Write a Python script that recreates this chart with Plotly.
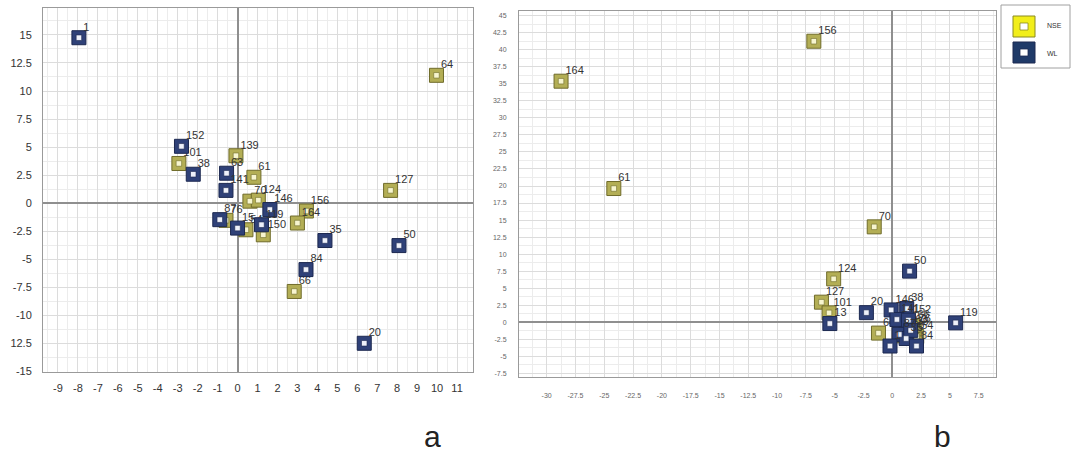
import plotly.graph_objects as go

# ---------------- Panel a ----------------
a_nse_labels = ["64", "101", "139", "61", "70", "124", "156", "164", "127", "66", "150", "54", "76"]
a_nse_x = [9.97, -2.94, -0.08, 0.82, 0.62, 1.04, 3.45, 3.0, 7.67, 2.84, 1.29, 0.42, -0.58]
a_nse_y = [11.4, 3.54, 4.23, 2.31, 0.18, 0.27, -0.7, -1.77, 1.14, -7.87, -2.82, -2.37, -1.53]

a_wl_labels = ["1", "152", "38", "63", "141", "146", "35", "50", "84", "20", "87", "15", "119"]
a_wl_x = [-7.95, -2.81, -2.22, -0.55, -0.58, 1.62, 4.38, 8.09, 3.43, 6.35, -0.89, 0.0, 1.2]
a_wl_y = [14.75, 5.07, 2.58, 2.67, 1.14, -0.57, -3.33, -3.78, -5.92, -12.49, -1.47, -2.22, -1.92]

# ---------------- Panel b ----------------
b_nse_labels = ["156", "164", "61", "70", "124", "127", "101", "64", "150", "54", "76", "66", "139"]
b_nse_x = [-6.81, -28.75, -24.17, -1.57, -5.09, -6.15, -5.49, -1.2, 0.8, 2.12, 1.9, 1.8, 1.2]
b_nse_y = [41.26, 35.39, 19.63, 14.0, 6.36, 2.94, 1.37, -1.6, -2.0, -2.1, -1.0, -0.5, -1.5]

b_wl_labels = ["50", "13", "20", "146", "38", "119", "141", "152", "87", "35", "1", "84", "63"]
b_wl_x = [1.5, -5.42, -2.25, -0.1, 1.25, 5.5, 0.4, 1.4, 0.6, 1.2, -0.2, 2.1, 1.6]
b_wl_y = [7.5, -0.2, 1.4, 1.8, 2.0, -0.1, 0.4, 0.3, -1.8, -2.4, -3.5, -3.5, -1.2]

# ---------------- Tick labels ----------------
a_xticks = list(range(-9, 12))
a_xtick_text = [str(v) for v in a_xticks]
a_yticks = [-15, -12.5, -10, -7.5, -5, -2.5, 0, 2.5, 5, 7.5, 10, 12.5, 15]
a_ytick_text = ["-15", "12.5", "-10", "-7.5", "-5", "-2.5", "0", "2.5", "5", "7.5", "10", "12.5", "15"]
b_xticks = [-30, -27.5, -25, -22.5, -20, -17.5, -15, -12.5, -10, -7.5, -5, -2.5, 0, 2.5, 5, 7.5]
b_xtick_text = ["-30", "-27.5", "-25", "-22.5", "-20", "-17.5", "-15", "-12.5", "-10", "-7.5", "-5",
                "-2.5", "0", "2.5", "5", "7.5"]
b_yticks = [-7.5, -5, -2.5, 0, 2.5, 5, 7.5, 10, 12.5, 15, 17.5, 20, 22.5, 25, 27.5, 30, 32.5, 35,
            37.5, 40, 42.5, 45]
b_ytick_text = ["-7.5", "-5", "-2.5", "0", "2.5", "5", "7.5", "10", "12.5", "15", "17.5", "20", "22.5",
                "25", "27.5", "30", "32.5", "35", "37.5", "40", "42.5", "45"]

series_names = ["NSE", "WL"]
panel_names = ["a", "b"]

NSE_RING = "#b3ae55"
NSE_EDGE = "#6f6b2a"
NSE_IN = "#f7f5cf"
WL_RING = "#2f4178"
WL_EDGE = "#1c2850"
WL_IN = "#eef1fa"
FONT = "Liberation Sans, Arial"

fig = go.Figure()

def add_series(xs, ys, labels, ring, edge, inner, xa, ya, name):
    fig.add_trace(go.Scatter(
        x=xs, y=ys, mode="markers",
        marker=dict(symbol="square", size=14, color=ring, line=dict(color=edge, width=1)),
        xaxis=xa, yaxis=ya, name=name, showlegend=False, hoverinfo="skip"))
    fig.add_trace(go.Scatter(
        x=xs, y=ys, mode="markers+text", text=labels, textposition="top right",
        textfont=dict(family=FONT, size=11, color="#333333"),
        marker=dict(symbol="square", size=5.5, color=inner, line=dict(color=edge, width=0.6)),
        xaxis=xa, yaxis=ya, name=name, showlegend=False, hoverinfo="skip", cliponaxis=False))

add_series(a_nse_x, a_nse_y, a_nse_labels, NSE_RING, NSE_EDGE, NSE_IN, "x", "y", series_names[0])
add_series(a_wl_x, a_wl_y, a_wl_labels, WL_RING, WL_EDGE, WL_IN, "x", "y", series_names[1])
add_series(b_nse_x, b_nse_y, b_nse_labels, NSE_RING, NSE_EDGE, NSE_IN, "x2", "y2", series_names[0])
add_series(b_wl_x, b_wl_y, b_wl_labels, WL_RING, WL_EDGE, WL_IN, "x2", "y2", series_names[1])

W, H = 1072, 452
def px(v):
    return v / W
def py(v):
    return 1 - v / H

grid = "#dcdcdc"
minor_grid = "#ececec"
frame = "#9a9a9a"

common = dict(showgrid=True, gridcolor=grid, gridwidth=1, zeroline=True, zerolinecolor="#8f8f8f",
              zerolinewidth=1.5, showline=True, linecolor=frame, linewidth=1, mirror=True, ticks="",
              automargin=False, tickmode="array")

fig.update_layout(
    width=W, height=H, margin=dict(l=0, r=0, t=0, b=0, autoexpand=False),
    paper_bgcolor="white", plot_bgcolor="white", showlegend=False,
    xaxis=dict(domain=[px(43), px(473)], range=[-9.75, 11.8], tickvals=a_xticks, ticktext=a_xtick_text,
               minor=dict(dtick=0.5, tick0=0, showgrid=True, gridcolor=minor_grid),
               tickfont=dict(family=FONT, size=11, color="#333333"),
               ticklabelstandoff=6, anchor="y", **common),
    yaxis=dict(domain=[py(372), py(8)], range=[-15.05, 17.4], tickvals=a_yticks, ticktext=a_ytick_text,
               minor=dict(dtick=1.25, tick0=0, showgrid=True, gridcolor=minor_grid),
               tickfont=dict(family=FONT, size=11, color="#333333"),
               ticklabelstandoff=8, anchor="x", **common),
    xaxis2=dict(domain=[px(519), px(996)], range=[-32.4, 9.0], tickvals=b_xticks, ticktext=b_xtick_text,
                minor=dict(dtick=1.25, tick0=0, showgrid=True, gridcolor=minor_grid),
                tickfont=dict(family=FONT, size=7, color="#666666"),
                ticklabelstandoff=12, anchor="y2", **common),
    yaxis2=dict(domain=[py(377), py(11)], range=[-8.05, 45.7], tickvals=b_yticks, ticktext=b_ytick_text,
                minor=dict(dtick=1.25, tick0=0, showgrid=True, gridcolor=minor_grid),
                tickfont=dict(family=FONT, size=7, color="#666666"),
                ticklabelstandoff=10, anchor="x2", **common),
)

# legend box (drawn manually to match the reference look)
shapes = [
    dict(type="rect", xref="paper", yref="paper", x0=px(1001), x1=px(1070), y0=py(68), y1=py(5),
         line=dict(color="#a0a0a0", width=1), fillcolor="white"),
    dict(type="rect", xref="paper", yref="paper", x0=px(1013), x1=px(1035), y0=py(37), y1=py(16),
         line=dict(color="#8a8a20", width=1), fillcolor="#f2ee1a"),
    dict(type="rect", xref="paper", yref="paper", x0=px(1020), x1=px(1028), y0=py(30), y1=py(23),
         line=dict(color="#8a8a20", width=0.8), fillcolor="white"),
    dict(type="rect", xref="paper", yref="paper", x0=px(1013), x1=px(1035), y0=py(63), y1=py(42),
         line=dict(color="#1c2850", width=1), fillcolor="#1f3a68"),
    dict(type="rect", xref="paper", yref="paper", x0=px(1020), x1=px(1028), y0=py(56), y1=py(49),
         line=dict(color="#1c2850", width=0.8), fillcolor="white"),
]
fig.update_layout(shapes=shapes)

ann = [
    dict(x=px(1045), y=py(26), xref="paper", yref="paper", text=series_names[0], showarrow=False,
         xanchor="left", yanchor="middle", font=dict(family=FONT, size=7, color="#333333")),
    dict(x=px(1045), y=py(53), xref="paper", yref="paper", text=series_names[1], showarrow=False,
         xanchor="left", yanchor="middle", font=dict(family=FONT, size=7, color="#333333")),
    dict(x=px(432), y=py(436), xref="paper", yref="paper", text=panel_names[0], showarrow=False,
         xanchor="center", yanchor="middle", font=dict(family=FONT, size=30, color="#222222")),
    dict(x=px(942), y=py(436), xref="paper", yref="paper", text=panel_names[1], showarrow=False,
         xanchor="center", yanchor="middle", font=dict(family=FONT, size=30, color="#222222")),
]
fig.update_layout(annotations=ann)

fig.write_html("out.html", config={"displayModeBar": False},
               post_script="document.body.style.margin='0';document.body.style.overflow='hidden';")
